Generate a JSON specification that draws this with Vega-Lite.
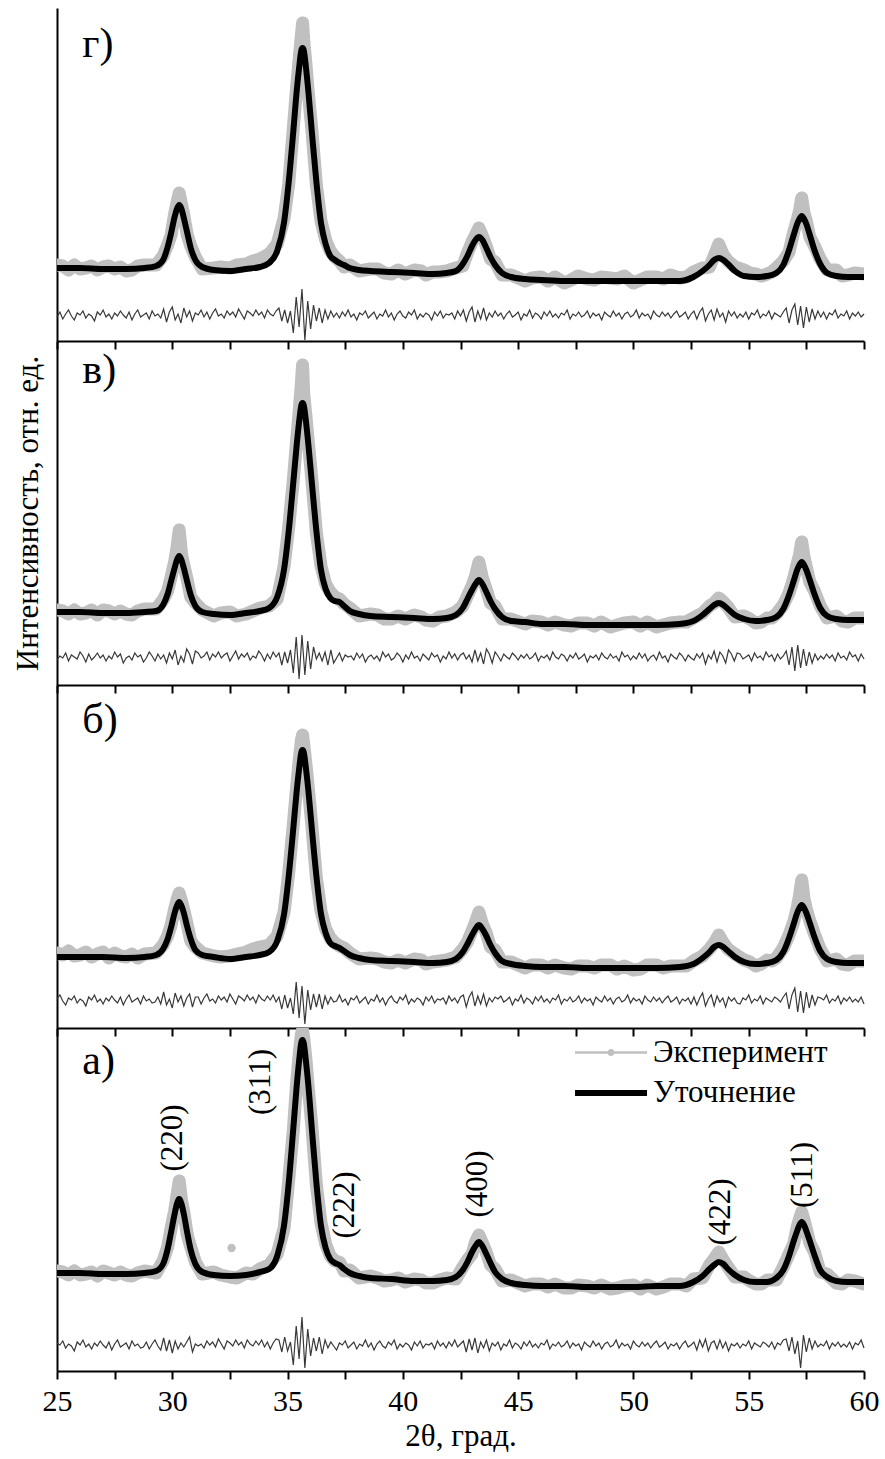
{
"$schema": "https://vega.github.io/schema/vega-lite/v6.json",
"padding": {"left": 12, "top": 8, "right": 8, "bottom": 6},
"config": {
 "view": {"stroke": null},
 "font": "Liberation Serif",
 "axis": {"grid": false, "domainColor": "#000", "tickColor": "#000", "domainWidth": 2, "tickWidth": 2, "labelFont": "Liberation Serif", "labelFontSize": 30, "labelColor": "#000", "titleFont": "Liberation Serif", "titleFontSize": 31, "titleFontWeight": "normal", "titleColor": "#000"},
 "text": {"font": "Liberation Serif", "color": "#000"}
},
"bounds": "flush",
"spacing": 0,
"resolve": {"scale": {"color": "independent", "shape": "independent", "strokeWidth": "independent"}, "legend": {"color": "independent", "shape": "independent", "strokeWidth": "independent"}},
"datasets": {
"fg": [{"x":25,"y":73},{"x":26,"y":73},{"x":27,"y":72},{"x":28,"y":72},{"x":28.8,"y":73},{"x":29.3,"y":75},{"x":29.6,"y":81},{"x":29.8,"y":94},{"x":29.95,"y":108},{"x":30.1,"y":124},{"x":30.2,"y":132},{"x":30.3,"y":136},{"x":30.4,"y":132},{"x":30.5,"y":123},{"x":30.65,"y":108},{"x":30.8,"y":93},{"x":31,"y":81},{"x":31.3,"y":74},{"x":31.8,"y":71},{"x":32.5,"y":70},{"x":33.2,"y":72},{"x":33.8,"y":74},{"x":34.2,"y":78},{"x":34.55,"y":90},{"x":34.85,"y":119},{"x":35.05,"y":159},{"x":35.25,"y":210},{"x":35.4,"y":251},{"x":35.5,"y":273},{"x":35.6,"y":291},{"x":35.65,"y":293},{"x":35.7,"y":291},{"x":35.8,"y":273},{"x":35.9,"y":250},{"x":36.05,"y":210},{"x":36.25,"y":159},{"x":36.45,"y":118},{"x":36.65,"y":97},{"x":36.85,"y":85},{"x":37.05,"y":81},{"x":37.25,"y":78},{"x":37.45,"y":76},{"x":37.7,"y":73},{"x":38.1,"y":71},{"x":38.6,"y":70},{"x":39.5,"y":69},{"x":40.5,"y":68},{"x":41.3,"y":67},{"x":41.9,"y":68},{"x":42.3,"y":70},{"x":42.6,"y":77},{"x":42.8,"y":85},{"x":43,"y":95},{"x":43.15,"y":101},{"x":43.3,"y":104},{"x":43.45,"y":101},{"x":43.6,"y":94},{"x":43.8,"y":84},{"x":44,"y":76},{"x":44.3,"y":68},{"x":44.7,"y":64},{"x":45.3,"y":62},{"x":46,"y":61},{"x":47,"y":60},{"x":48,"y":60},{"x":49,"y":60},{"x":50,"y":60},{"x":51,"y":60},{"x":52,"y":60},{"x":52.6,"y":64},{"x":53,"y":70},{"x":53.3,"y":76},{"x":53.5,"y":81},{"x":53.7,"y":83},{"x":53.9,"y":81},{"x":54.1,"y":77},{"x":54.4,"y":70},{"x":54.8,"y":65},{"x":55.3,"y":64},{"x":55.8,"y":65},{"x":56.2,"y":68},{"x":56.5,"y":76},{"x":56.75,"y":91},{"x":56.95,"y":106},{"x":57.1,"y":117},{"x":57.2,"y":122},{"x":57.3,"y":125},{"x":57.4,"y":122},{"x":57.5,"y":117},{"x":57.65,"y":106},{"x":57.85,"y":91},{"x":58.1,"y":77},{"x":58.4,"y":68},{"x":58.8,"y":65},{"x":59.3,"y":64},{"x":60,"y":64}],
"fv": [{"x":25,"y":73},{"x":26,"y":73},{"x":27,"y":72},{"x":28,"y":72},{"x":28.8,"y":73},{"x":29.3,"y":74},{"x":29.6,"y":80},{"x":29.8,"y":91},{"x":29.95,"y":104},{"x":30.1,"y":117},{"x":30.2,"y":125},{"x":30.3,"y":129},{"x":30.4,"y":125},{"x":30.5,"y":117},{"x":30.65,"y":103},{"x":30.8,"y":90},{"x":31,"y":79},{"x":31.3,"y":73},{"x":31.8,"y":71},{"x":32.5,"y":70},{"x":33.2,"y":72},{"x":33.8,"y":74},{"x":34.2,"y":77},{"x":34.55,"y":88},{"x":34.85,"y":116},{"x":35.05,"y":154},{"x":35.25,"y":203},{"x":35.4,"y":241},{"x":35.5,"y":263},{"x":35.6,"y":280},{"x":35.65,"y":282},{"x":35.7,"y":280},{"x":35.8,"y":263},{"x":35.9,"y":241},{"x":36.05,"y":203},{"x":36.25,"y":154},{"x":36.45,"y":115},{"x":36.65,"y":96},{"x":36.85,"y":87},{"x":37.05,"y":84},{"x":37.25,"y":83},{"x":37.45,"y":79},{"x":37.7,"y":74},{"x":38.1,"y":71},{"x":38.6,"y":69},{"x":39.5,"y":68},{"x":40.5,"y":67},{"x":41.3,"y":66},{"x":41.9,"y":67},{"x":42.3,"y":70},{"x":42.6,"y":77},{"x":42.8,"y":86},{"x":43,"y":95},{"x":43.15,"y":101},{"x":43.3,"y":105},{"x":43.45,"y":101},{"x":43.6,"y":94},{"x":43.8,"y":84},{"x":44,"y":76},{"x":44.3,"y":68},{"x":44.7,"y":64},{"x":45.3,"y":63},{"x":46,"y":61},{"x":47,"y":61},{"x":48,"y":60},{"x":49,"y":60},{"x":50,"y":60},{"x":51,"y":60},{"x":52,"y":61},{"x":52.6,"y":64},{"x":53,"y":70},{"x":53.3,"y":76},{"x":53.5,"y":80},{"x":53.7,"y":82},{"x":53.9,"y":80},{"x":54.1,"y":76},{"x":54.4,"y":70},{"x":54.8,"y":66},{"x":55.3,"y":64},{"x":55.8,"y":65},{"x":56.2,"y":68},{"x":56.5,"y":76},{"x":56.75,"y":90},{"x":56.95,"y":104},{"x":57.1,"y":115},{"x":57.2,"y":120},{"x":57.3,"y":123},{"x":57.4,"y":120},{"x":57.5,"y":115},{"x":57.65,"y":105},{"x":57.85,"y":91},{"x":58.1,"y":77},{"x":58.4,"y":69},{"x":58.8,"y":66},{"x":59.3,"y":65},{"x":60,"y":65}],
"fb": [{"x":25,"y":71},{"x":26,"y":71},{"x":27,"y":71},{"x":28,"y":70},{"x":28.8,"y":71},{"x":29.3,"y":73},{"x":29.6,"y":79},{"x":29.8,"y":89},{"x":29.95,"y":101},{"x":30.1,"y":115},{"x":30.2,"y":122},{"x":30.3,"y":126},{"x":30.4,"y":122},{"x":30.5,"y":115},{"x":30.65,"y":101},{"x":30.8,"y":89},{"x":31,"y":78},{"x":31.3,"y":73},{"x":31.8,"y":71},{"x":32.5,"y":69},{"x":33.2,"y":71},{"x":33.8,"y":73},{"x":34.2,"y":76},{"x":34.55,"y":87},{"x":34.85,"y":114},{"x":35.05,"y":152},{"x":35.25,"y":200},{"x":35.4,"y":238},{"x":35.5,"y":259},{"x":35.6,"y":276},{"x":35.65,"y":278},{"x":35.7,"y":276},{"x":35.8,"y":259},{"x":35.9,"y":238},{"x":36.05,"y":200},{"x":36.25,"y":152},{"x":36.45,"y":114},{"x":36.65,"y":95},{"x":36.85,"y":85},{"x":37.05,"y":82},{"x":37.25,"y":80},{"x":37.45,"y":77},{"x":37.7,"y":73},{"x":38.1,"y":70},{"x":38.6,"y":68},{"x":39.5,"y":67},{"x":40.5,"y":66},{"x":41.3,"y":65},{"x":41.9,"y":66},{"x":42.3,"y":69},{"x":42.6,"y":76},{"x":42.8,"y":84},{"x":43,"y":93},{"x":43.15,"y":99},{"x":43.3,"y":103},{"x":43.45,"y":99},{"x":43.6,"y":93},{"x":43.8,"y":83},{"x":44,"y":75},{"x":44.3,"y":67},{"x":44.7,"y":64},{"x":45.3,"y":62},{"x":46,"y":61},{"x":47,"y":61},{"x":48,"y":60},{"x":49,"y":60},{"x":50,"y":60},{"x":51,"y":60},{"x":52,"y":61},{"x":52.6,"y":64},{"x":53,"y":70},{"x":53.3,"y":76},{"x":53.5,"y":81},{"x":53.7,"y":83},{"x":53.9,"y":81},{"x":54.1,"y":77},{"x":54.4,"y":71},{"x":54.8,"y":66},{"x":55.3,"y":64},{"x":55.8,"y":65},{"x":56.2,"y":68},{"x":56.5,"y":76},{"x":56.75,"y":90},{"x":56.95,"y":104},{"x":57.1,"y":115},{"x":57.2,"y":120},{"x":57.3,"y":123},{"x":57.4,"y":120},{"x":57.5,"y":115},{"x":57.65,"y":105},{"x":57.85,"y":91},{"x":58.1,"y":77},{"x":58.4,"y":69},{"x":58.8,"y":66},{"x":59.3,"y":65},{"x":60,"y":65}],
"fa": [{"x":25,"y":98},{"x":26,"y":98},{"x":27,"y":97},{"x":28,"y":97},{"x":28.8,"y":98},{"x":29.3,"y":100},{"x":29.6,"y":107},{"x":29.8,"y":122},{"x":29.95,"y":139},{"x":30.1,"y":157},{"x":30.2,"y":167},{"x":30.3,"y":172},{"x":30.4,"y":167},{"x":30.5,"y":157},{"x":30.65,"y":138},{"x":30.8,"y":121},{"x":31,"y":107},{"x":31.3,"y":99},{"x":31.8,"y":96},{"x":32.5,"y":95},{"x":33.2,"y":96},{"x":33.8,"y":99},{"x":34.2,"y":102},{"x":34.55,"y":115},{"x":34.85,"y":146},{"x":35.05,"y":188},{"x":35.25,"y":243},{"x":35.4,"y":286},{"x":35.5,"y":310},{"x":35.6,"y":329},{"x":35.65,"y":331},{"x":35.7,"y":328},{"x":35.8,"y":309},{"x":35.9,"y":286},{"x":36.05,"y":243},{"x":36.25,"y":188},{"x":36.45,"y":145},{"x":36.65,"y":123},{"x":36.85,"y":112},{"x":37.05,"y":108},{"x":37.25,"y":106},{"x":37.45,"y":102},{"x":37.7,"y":98},{"x":38.1,"y":95},{"x":38.6,"y":93},{"x":39.5,"y":92},{"x":40.5,"y":90},{"x":41.3,"y":90},{"x":41.9,"y":91},{"x":42.3,"y":94},{"x":42.6,"y":101},{"x":42.8,"y":109},{"x":43,"y":119},{"x":43.15,"y":125},{"x":43.3,"y":129},{"x":43.45,"y":125},{"x":43.6,"y":118},{"x":43.8,"y":108},{"x":44,"y":99},{"x":44.3,"y":92},{"x":44.7,"y":88},{"x":45.3,"y":86},{"x":46,"y":85},{"x":47,"y":85},{"x":48,"y":84},{"x":49,"y":84},{"x":50,"y":84},{"x":51,"y":85},{"x":52,"y":85},{"x":52.6,"y":89},{"x":53,"y":95},{"x":53.3,"y":102},{"x":53.5,"y":106},{"x":53.7,"y":109},{"x":53.9,"y":107},{"x":54.1,"y":102},{"x":54.4,"y":96},{"x":54.8,"y":91},{"x":55.3,"y":89},{"x":55.8,"y":89},{"x":56.2,"y":93},{"x":56.5,"y":101},{"x":56.75,"y":115},{"x":56.95,"y":130},{"x":57.1,"y":140},{"x":57.2,"y":146},{"x":57.3,"y":149},{"x":57.4,"y":146},{"x":57.5,"y":140},{"x":57.65,"y":130},{"x":57.85,"y":116},{"x":58.1,"y":101},{"x":58.4,"y":94},{"x":58.8,"y":90},{"x":59.3,"y":89},{"x":60,"y":89}],
"eg": [{"x":25,"y":76},{"x":25.25,"y":75},{"x":25.5,"y":71},{"x":25.75,"y":76},{"x":26,"y":72},{"x":26.25,"y":73},{"x":26.5,"y":75},{"x":26.75,"y":71},{"x":27,"y":74},{"x":27.25,"y":75},{"x":27.5,"y":72},{"x":27.75,"y":74},{"x":28,"y":70},{"x":28.25,"y":71},{"x":28.5,"y":75},{"x":28.8,"y":76},{"x":29.3,"y":76},{"x":29.6,"y":85},{"x":29.8,"y":96},{"x":29.95,"y":106},{"x":30.1,"y":127},{"x":30.2,"y":138},{"x":30.3,"y":148},{"x":30.4,"y":137},{"x":30.5,"y":126},{"x":30.65,"y":106},{"x":30.8,"y":95},{"x":31,"y":84},{"x":31.3,"y":72},{"x":31.8,"y":73},{"x":32.1,"y":74},{"x":32.5,"y":73},{"x":32.8,"y":76},{"x":33.2,"y":77},{"x":33.5,"y":80},{"x":33.8,"y":82},{"x":34.2,"y":87},{"x":34.55,"y":97},{"x":34.85,"y":123},{"x":35.05,"y":157},{"x":35.25,"y":213},{"x":35.4,"y":256},{"x":35.5,"y":281},{"x":35.6,"y":306},{"x":35.65,"y":318},{"x":35.7,"y":301},{"x":35.8,"y":276},{"x":35.9,"y":248},{"x":36.05,"y":212},{"x":36.25,"y":156},{"x":36.45,"y":120},{"x":36.65,"y":101},{"x":36.85,"y":90},{"x":37.05,"y":84},{"x":37.25,"y":80},{"x":37.45,"y":74},{"x":37.7,"y":76},{"x":38.1,"y":70},{"x":38.6,"y":72},{"x":38.9,"y":72},{"x":39.2,"y":68},{"x":39.5,"y":67},{"x":39.8,"y":71},{"x":40.1,"y":67},{"x":40.5,"y":71},{"x":40.8,"y":70},{"x":41,"y":66},{"x":41.3,"y":69},{"x":41.6,"y":69},{"x":41.9,"y":70},{"x":42.3,"y":73},{"x":42.6,"y":75},{"x":42.8,"y":88},{"x":43,"y":99},{"x":43.15,"y":106},{"x":43.3,"y":113},{"x":43.45,"y":105},{"x":43.6,"y":96},{"x":43.8,"y":82},{"x":44,"y":79},{"x":44.3,"y":66},{"x":44.7,"y":66},{"x":45.3,"y":60},{"x":45.6,"y":63},{"x":46,"y":64},{"x":46.3,"y":60},{"x":46.6,"y":64},{"x":47,"y":58},{"x":47.3,"y":61},{"x":47.6,"y":65},{"x":48,"y":62},{"x":48.3,"y":61},{"x":48.6,"y":64},{"x":49,"y":63},{"x":49.3,"y":62},{"x":49.6,"y":65},{"x":50,"y":58},{"x":50.3,"y":61},{"x":50.6,"y":64},{"x":51,"y":64},{"x":51.3,"y":62},{"x":51.6,"y":66},{"x":52,"y":63},{"x":52.3,"y":64},{"x":52.6,"y":69},{"x":53,"y":73},{"x":53.3,"y":74},{"x":53.5,"y":85},{"x":53.7,"y":97},{"x":53.9,"y":86},{"x":54.1,"y":80},{"x":54.4,"y":74},{"x":54.8,"y":71},{"x":55.05,"y":68},{"x":55.3,"y":67},{"x":55.55,"y":65},{"x":55.8,"y":67},{"x":56,"y":69},{"x":56.2,"y":73},{"x":56.5,"y":80},{"x":56.75,"y":89},{"x":56.95,"y":109},{"x":57.1,"y":121},{"x":57.2,"y":130},{"x":57.3,"y":143},{"x":57.4,"y":128},{"x":57.5,"y":120},{"x":57.65,"y":104},{"x":57.85,"y":95},{"x":58.1,"y":82},{"x":58.4,"y":71},{"x":58.8,"y":71},{"x":59.05,"y":65},{"x":59.3,"y":66},{"x":59.6,"y":68},{"x":60,"y":67}],
"ev": [{"x":25,"y":75},{"x":25.25,"y":74},{"x":25.5,"y":71},{"x":25.75,"y":75},{"x":26,"y":71},{"x":26.25,"y":72},{"x":26.5,"y":75},{"x":26.75,"y":70},{"x":27,"y":75},{"x":27.25,"y":74},{"x":27.5,"y":71},{"x":27.75,"y":74},{"x":28,"y":71},{"x":28.25,"y":70},{"x":28.5,"y":74},{"x":28.8,"y":76},{"x":29.3,"y":76},{"x":29.6,"y":85},{"x":29.8,"y":94},{"x":29.95,"y":108},{"x":30.1,"y":123},{"x":30.2,"y":137},{"x":30.3,"y":155},{"x":30.4,"y":131},{"x":30.5,"y":120},{"x":30.65,"y":105},{"x":30.8,"y":88},{"x":31,"y":82},{"x":31.3,"y":75},{"x":31.8,"y":69},{"x":32.1,"y":72},{"x":32.5,"y":73},{"x":32.8,"y":69},{"x":33.2,"y":71},{"x":33.5,"y":74},{"x":33.8,"y":77},{"x":34.2,"y":79},{"x":34.55,"y":86},{"x":34.85,"y":119},{"x":35.05,"y":158},{"x":35.25,"y":205},{"x":35.4,"y":247},{"x":35.5,"y":273},{"x":35.6,"y":302},{"x":35.65,"y":320},{"x":35.7,"y":292},{"x":35.8,"y":268},{"x":35.9,"y":243},{"x":36.05,"y":206},{"x":36.25,"y":152},{"x":36.45,"y":119},{"x":36.65,"y":101},{"x":36.85,"y":93},{"x":37.05,"y":88},{"x":37.25,"y":86},{"x":37.45,"y":81},{"x":37.7,"y":77},{"x":38.1,"y":69},{"x":38.6,"y":71},{"x":38.9,"y":70},{"x":39.2,"y":66},{"x":39.5,"y":66},{"x":39.8,"y":69},{"x":40.1,"y":66},{"x":40.5,"y":70},{"x":40.8,"y":68},{"x":41,"y":65},{"x":41.3,"y":64},{"x":41.6,"y":68},{"x":41.9,"y":69},{"x":42.3,"y":73},{"x":42.6,"y":79},{"x":42.8,"y":89},{"x":43,"y":99},{"x":43.15,"y":109},{"x":43.3,"y":123},{"x":43.45,"y":107},{"x":43.6,"y":97},{"x":43.8,"y":82},{"x":44,"y":79},{"x":44.3,"y":66},{"x":44.7,"y":66},{"x":45.3,"y":61},{"x":45.6,"y":64},{"x":46,"y":63},{"x":46.3,"y":60},{"x":46.6,"y":63},{"x":47,"y":60},{"x":47.3,"y":59},{"x":47.6,"y":62},{"x":48,"y":62},{"x":48.3,"y":59},{"x":48.6,"y":63},{"x":49,"y":58},{"x":49.3,"y":60},{"x":49.6,"y":62},{"x":50,"y":63},{"x":50.3,"y":59},{"x":50.6,"y":63},{"x":51,"y":58},{"x":51.3,"y":60},{"x":51.6,"y":62},{"x":52,"y":63},{"x":52.3,"y":63},{"x":52.6,"y":67},{"x":53,"y":72},{"x":53.3,"y":79},{"x":53.5,"y":82},{"x":53.7,"y":87},{"x":53.9,"y":83},{"x":54.1,"y":78},{"x":54.4,"y":68},{"x":54.8,"y":69},{"x":55.05,"y":66},{"x":55.3,"y":62},{"x":55.55,"y":63},{"x":55.8,"y":67},{"x":56,"y":67},{"x":56.2,"y":71},{"x":56.5,"y":80},{"x":56.75,"y":92},{"x":56.95,"y":107},{"x":57.1,"y":121},{"x":57.2,"y":130},{"x":57.3,"y":143},{"x":57.4,"y":128},{"x":57.5,"y":118},{"x":57.65,"y":103},{"x":57.85,"y":94},{"x":58.1,"y":79},{"x":58.4,"y":67},{"x":58.8,"y":69},{"x":59.05,"y":64},{"x":59.3,"y":63},{"x":59.6,"y":67},{"x":60,"y":67}],
"eb": [{"x":25,"y":75},{"x":25.25,"y":73},{"x":25.5,"y":77},{"x":25.75,"y":72},{"x":26,"y":73},{"x":26.25,"y":76},{"x":26.5,"y":71},{"x":26.75,"y":74},{"x":27,"y":76},{"x":27.25,"y":70},{"x":27.5,"y":75},{"x":27.75,"y":72},{"x":28,"y":71},{"x":28.25,"y":74},{"x":28.5,"y":70},{"x":28.8,"y":74},{"x":29.3,"y":75},{"x":29.6,"y":83},{"x":29.8,"y":92},{"x":29.95,"y":103},{"x":30.1,"y":119},{"x":30.2,"y":128},{"x":30.3,"y":135},{"x":30.4,"y":127},{"x":30.5,"y":118},{"x":30.65,"y":103},{"x":30.8,"y":87},{"x":31,"y":81},{"x":31.3,"y":75},{"x":31.8,"y":72},{"x":32.1,"y":71},{"x":32.5,"y":72},{"x":32.8,"y":74},{"x":33.2,"y":76},{"x":33.5,"y":79},{"x":33.8,"y":81},{"x":34.2,"y":83},{"x":34.55,"y":92},{"x":34.85,"y":116},{"x":35.05,"y":155},{"x":35.25,"y":204},{"x":35.4,"y":243},{"x":35.5,"y":267},{"x":35.6,"y":288},{"x":35.65,"y":293},{"x":35.7,"y":284},{"x":35.8,"y":263},{"x":35.9,"y":240},{"x":36.05,"y":203},{"x":36.25,"y":150},{"x":36.45,"y":117},{"x":36.65,"y":99},{"x":36.85,"y":90},{"x":37.05,"y":85},{"x":37.25,"y":82},{"x":37.45,"y":80},{"x":37.7,"y":75},{"x":38.1,"y":69},{"x":38.6,"y":70},{"x":38.9,"y":69},{"x":39.2,"y":66},{"x":39.5,"y":65},{"x":39.8,"y":68},{"x":40.1,"y":65},{"x":40.5,"y":69},{"x":40.8,"y":68},{"x":41,"y":64},{"x":41.3,"y":66},{"x":41.6,"y":67},{"x":41.9,"y":68},{"x":42.3,"y":71},{"x":42.6,"y":79},{"x":42.8,"y":86},{"x":43,"y":97},{"x":43.15,"y":106},{"x":43.3,"y":116},{"x":43.45,"y":104},{"x":43.6,"y":96},{"x":43.8,"y":81},{"x":44,"y":78},{"x":44.3,"y":66},{"x":44.7,"y":66},{"x":45.3,"y":60},{"x":45.6,"y":63},{"x":46,"y":63},{"x":46.3,"y":60},{"x":46.6,"y":63},{"x":47,"y":60},{"x":47.3,"y":59},{"x":47.6,"y":62},{"x":48,"y":62},{"x":48.3,"y":60},{"x":48.6,"y":63},{"x":49,"y":63},{"x":49.3,"y":59},{"x":49.6,"y":62},{"x":50,"y":58},{"x":50.3,"y":59},{"x":50.6,"y":63},{"x":51,"y":63},{"x":51.3,"y":60},{"x":51.6,"y":62},{"x":52,"y":62},{"x":52.3,"y":62},{"x":52.6,"y":67},{"x":53,"y":72},{"x":53.3,"y":79},{"x":53.5,"y":85},{"x":53.7,"y":93},{"x":53.9,"y":85},{"x":54.1,"y":79},{"x":54.4,"y":74},{"x":54.8,"y":68},{"x":55.05,"y":66},{"x":55.3,"y":62},{"x":55.55,"y":64},{"x":55.8,"y":68},{"x":56,"y":67},{"x":56.2,"y":70},{"x":56.5,"y":80},{"x":56.75,"y":93},{"x":56.95,"y":106},{"x":57.1,"y":120},{"x":57.2,"y":132},{"x":57.3,"y":148},{"x":57.4,"y":129},{"x":57.5,"y":119},{"x":57.65,"y":107},{"x":57.85,"y":94},{"x":58.1,"y":79},{"x":58.4,"y":67},{"x":58.8,"y":69},{"x":59.05,"y":64},{"x":59.3,"y":63},{"x":59.6,"y":67},{"x":60,"y":67}],
"ea": [{"x":25,"y":100},{"x":25.25,"y":99},{"x":25.5,"y":96},{"x":25.75,"y":100},{"x":26,"y":96},{"x":26.25,"y":97},{"x":26.5,"y":99},{"x":26.75,"y":95},{"x":27,"y":100},{"x":27.25,"y":98},{"x":27.5,"y":96},{"x":27.75,"y":99},{"x":28,"y":96},{"x":28.25,"y":95},{"x":28.5,"y":98},{"x":28.8,"y":100},{"x":29.3,"y":98},{"x":29.6,"y":110},{"x":29.8,"y":124},{"x":29.95,"y":143},{"x":30.1,"y":160},{"x":30.2,"y":175},{"x":30.3,"y":190},{"x":30.4,"y":171},{"x":30.5,"y":159},{"x":30.65,"y":136},{"x":30.8,"y":124},{"x":31,"y":109},{"x":31.3,"y":97},{"x":31.8,"y":99},{"x":32.1,"y":96},{"x":32.5,"y":94},{"x":32.57,"y":123,"o":1},{"x":32.8,"y":93},{"x":33.2,"y":98},{"x":33.5,"y":97},{"x":33.8,"y":102},{"x":34.2,"y":106},{"x":34.55,"y":117},{"x":34.85,"y":143},{"x":35.05,"y":191},{"x":35.25,"y":241},{"x":35.4,"y":290},{"x":35.5,"y":316},{"x":35.6,"y":337},{"x":35.65,"y":341},{"x":35.7,"y":333},{"x":35.8,"y":311},{"x":35.9,"y":283},{"x":36.05,"y":246},{"x":36.25,"y":186},{"x":36.45,"y":148},{"x":36.65,"y":127},{"x":36.85,"y":115},{"x":37.05,"y":110},{"x":37.25,"y":109},{"x":37.45,"y":100},{"x":37.7,"y":101},{"x":38.1,"y":93},{"x":38.6,"y":95},{"x":38.9,"y":93},{"x":39.2,"y":90},{"x":39.5,"y":91},{"x":39.8,"y":93},{"x":40.1,"y":89},{"x":40.5,"y":92},{"x":40.8,"y":91},{"x":41,"y":88},{"x":41.3,"y":88},{"x":41.6,"y":91},{"x":41.9,"y":93},{"x":42.3,"y":92},{"x":42.6,"y":104},{"x":42.8,"y":111},{"x":43,"y":117},{"x":43.15,"y":129},{"x":43.3,"y":136},{"x":43.45,"y":128},{"x":43.6,"y":120},{"x":43.8,"y":106},{"x":44,"y":102},{"x":44.3,"y":90},{"x":44.7,"y":91},{"x":45.3,"y":85},{"x":45.6,"y":87},{"x":46,"y":87},{"x":46.3,"y":84},{"x":46.6,"y":87},{"x":47,"y":83},{"x":47.3,"y":83},{"x":47.6,"y":86},{"x":48,"y":85},{"x":48.3,"y":83},{"x":48.6,"y":86},{"x":49,"y":82},{"x":49.3,"y":83},{"x":49.6,"y":85},{"x":50,"y":86},{"x":50.3,"y":82},{"x":50.6,"y":86},{"x":51,"y":82},{"x":51.3,"y":84},{"x":51.6,"y":87},{"x":52,"y":87},{"x":52.3,"y":85},{"x":52.6,"y":92},{"x":53,"y":93},{"x":53.3,"y":106},{"x":53.5,"y":112},{"x":53.7,"y":119},{"x":53.9,"y":111},{"x":54.1,"y":104},{"x":54.4,"y":94},{"x":54.8,"y":94},{"x":55.05,"y":90},{"x":55.3,"y":87},{"x":55.55,"y":87},{"x":55.8,"y":91},{"x":56,"y":91},{"x":56.2,"y":91},{"x":56.5,"y":104},{"x":56.75,"y":117},{"x":56.95,"y":127},{"x":57.1,"y":144},{"x":57.2,"y":152},{"x":57.3,"y":159},{"x":57.4,"y":151},{"x":57.5,"y":142},{"x":57.65,"y":128},{"x":57.85,"y":119},{"x":58.1,"y":99},{"x":58.4,"y":97},{"x":58.8,"y":88},{"x":59.05,"y":87},{"x":59.3,"y":91},{"x":59.6,"y":90},{"x":60,"y":87}],
"dg": [{"x":25,"y":24},{"x":25.125,"y":29},{"x":25.25,"y":22},{"x":25.375,"y":27},{"x":25.5,"y":31},{"x":25.625,"y":25},{"x":25.75,"y":21},{"x":25.875,"y":28},{"x":26,"y":26},{"x":26.125,"y":30},{"x":26.25,"y":23},{"x":26.375,"y":27},{"x":26.5,"y":25},{"x":26.625,"y":20},{"x":26.75,"y":29},{"x":26.875,"y":26},{"x":27,"y":31},{"x":27.125,"y":24},{"x":27.25,"y":27},{"x":27.375,"y":22},{"x":27.5,"y":28},{"x":27.625,"y":25},{"x":27.75,"y":30},{"x":27.875,"y":26},{"x":28,"y":23},{"x":28.125,"y":29},{"x":28.25,"y":21},{"x":28.375,"y":27},{"x":28.5,"y":31},{"x":28.625,"y":24},{"x":28.75,"y":26},{"x":28.875,"y":28},{"x":29,"y":22},{"x":29.125,"y":30},{"x":29.25,"y":25},{"x":29.375,"y":27},{"x":29.5,"y":23},{"x":29.625,"y":32},{"x":29.75,"y":19},{"x":29.875,"y":29},{"x":30,"y":34},{"x":30.125,"y":21},{"x":30.25,"y":27},{"x":30.375,"y":18},{"x":30.5,"y":33},{"x":30.625,"y":24},{"x":30.75,"y":30},{"x":30.875,"y":20},{"x":31,"y":28},{"x":31.125,"y":26},{"x":31.25,"y":31},{"x":31.375,"y":24},{"x":31.5,"y":29},{"x":31.625,"y":22},{"x":31.75,"y":28},{"x":31.875,"y":32},{"x":32,"y":25},{"x":32.125,"y":27},{"x":32.25,"y":23},{"x":32.375,"y":30},{"x":32.5,"y":26},{"x":32.625,"y":29},{"x":32.75,"y":24},{"x":32.875,"y":32},{"x":33,"y":27},{"x":33.125,"y":22},{"x":33.25,"y":30},{"x":33.375,"y":28},{"x":33.5,"y":25},{"x":33.625,"y":31},{"x":33.75,"y":26},{"x":33.875,"y":29},{"x":34,"y":23},{"x":34.125,"y":31},{"x":34.25,"y":27},{"x":34.375,"y":25},{"x":34.5,"y":30},{"x":34.625,"y":33},{"x":34.75,"y":20},{"x":34.875,"y":31},{"x":35,"y":18},{"x":35.125,"y":30},{"x":35.25,"y":8},{"x":35.375,"y":44},{"x":35.5,"y":14},{"x":35.625,"y":52},{"x":35.75,"y":1},{"x":35.875,"y":40},{"x":36,"y":12},{"x":36.125,"y":36},{"x":36.25,"y":20},{"x":36.375,"y":33},{"x":36.5,"y":18},{"x":36.625,"y":31},{"x":36.75,"y":22},{"x":36.875,"y":30},{"x":37,"y":24},{"x":37.125,"y":28},{"x":37.25,"y":23},{"x":37.375,"y":29},{"x":37.5,"y":25},{"x":37.625,"y":31},{"x":37.75,"y":24},{"x":37.875,"y":27},{"x":38,"y":21},{"x":38.125,"y":28},{"x":38.25,"y":26},{"x":38.375,"y":30},{"x":38.5,"y":23},{"x":38.625,"y":26},{"x":38.75,"y":29},{"x":38.875,"y":22},{"x":39,"y":27},{"x":39.125,"y":25},{"x":39.25,"y":31},{"x":39.375,"y":24},{"x":39.5,"y":28},{"x":39.625,"y":21},{"x":39.75,"y":27},{"x":39.875,"y":30},{"x":40,"y":25},{"x":40.125,"y":23},{"x":40.25,"y":29},{"x":40.375,"y":26},{"x":40.5,"y":31},{"x":40.625,"y":22},{"x":40.75,"y":27},{"x":40.875,"y":24},{"x":41,"y":28},{"x":41.125,"y":26},{"x":41.25,"y":21},{"x":41.375,"y":29},{"x":41.5,"y":25},{"x":41.625,"y":30},{"x":41.75,"y":23},{"x":41.875,"y":27},{"x":42,"y":26},{"x":42.125,"y":28},{"x":42.25,"y":22},{"x":42.375,"y":30},{"x":42.5,"y":25},{"x":42.625,"y":31},{"x":42.75,"y":20},{"x":42.875,"y":29},{"x":43,"y":34},{"x":43.125,"y":19},{"x":43.25,"y":30},{"x":43.375,"y":22},{"x":43.5,"y":33},{"x":43.625,"y":21},{"x":43.75,"y":28},{"x":43.875,"y":24},{"x":44,"y":30},{"x":44.125,"y":25},{"x":44.25,"y":28},{"x":44.375,"y":22},{"x":44.5,"y":27},{"x":44.625,"y":30},{"x":44.75,"y":24},{"x":44.875,"y":26},{"x":45,"y":29},{"x":45.125,"y":21},{"x":45.25,"y":27},{"x":45.375,"y":25},{"x":45.5,"y":31},{"x":45.625,"y":23},{"x":45.75,"y":28},{"x":45.875,"y":26},{"x":46,"y":22},{"x":46.125,"y":29},{"x":46.25,"y":25},{"x":46.375,"y":30},{"x":46.5,"y":24},{"x":46.625,"y":27},{"x":46.75,"y":23},{"x":46.875,"y":28},{"x":47,"y":26},{"x":47.125,"y":31},{"x":47.25,"y":22},{"x":47.375,"y":27},{"x":47.5,"y":25},{"x":47.625,"y":29},{"x":47.75,"y":24},{"x":47.875,"y":26},{"x":48,"y":30},{"x":48.125,"y":23},{"x":48.25,"y":28},{"x":48.375,"y":25},{"x":48.5,"y":27},{"x":48.625,"y":21},{"x":48.75,"y":29},{"x":48.875,"y":26},{"x":49,"y":24},{"x":49.125,"y":30},{"x":49.25,"y":25},{"x":49.375,"y":28},{"x":49.5,"y":22},{"x":49.625,"y":27},{"x":49.75,"y":29},{"x":49.875,"y":24},{"x":50,"y":26},{"x":50.125,"y":31},{"x":50.25,"y":23},{"x":50.375,"y":28},{"x":50.5,"y":25},{"x":50.625,"y":27},{"x":50.75,"y":22},{"x":50.875,"y":30},{"x":51,"y":26},{"x":51.125,"y":24},{"x":51.25,"y":29},{"x":51.375,"y":25},{"x":51.5,"y":28},{"x":51.625,"y":23},{"x":51.75,"y":27},{"x":51.875,"y":30},{"x":52,"y":24},{"x":52.125,"y":26},{"x":52.25,"y":29},{"x":52.375,"y":22},{"x":52.5,"y":27},{"x":52.625,"y":30},{"x":52.75,"y":22},{"x":52.875,"y":29},{"x":53,"y":33},{"x":53.125,"y":20},{"x":53.25,"y":27},{"x":53.375,"y":31},{"x":53.5,"y":21},{"x":53.625,"y":32},{"x":53.75,"y":24},{"x":53.875,"y":28},{"x":54,"y":19},{"x":54.125,"y":30},{"x":54.25,"y":25},{"x":54.375,"y":29},{"x":54.5,"y":23},{"x":54.625,"y":27},{"x":54.75,"y":24},{"x":54.875,"y":29},{"x":55,"y":22},{"x":55.125,"y":28},{"x":55.25,"y":26},{"x":55.375,"y":31},{"x":55.5,"y":23},{"x":55.625,"y":27},{"x":55.75,"y":25},{"x":55.875,"y":30},{"x":56,"y":22},{"x":56.125,"y":28},{"x":56.25,"y":26},{"x":56.375,"y":24},{"x":56.5,"y":29},{"x":56.625,"y":33},{"x":56.75,"y":18},{"x":56.875,"y":31},{"x":57,"y":37},{"x":57.125,"y":16},{"x":57.25,"y":35},{"x":57.375,"y":13},{"x":57.5,"y":34},{"x":57.625,"y":19},{"x":57.75,"y":32},{"x":57.875,"y":22},{"x":58,"y":30},{"x":58.125,"y":24},{"x":58.25,"y":29},{"x":58.375,"y":22},{"x":58.5,"y":28},{"x":58.625,"y":26},{"x":58.75,"y":31},{"x":58.875,"y":23},{"x":59,"y":27},{"x":59.125,"y":25},{"x":59.25,"y":30},{"x":59.375,"y":22},{"x":59.5,"y":28},{"x":59.625,"y":25},{"x":59.75,"y":29},{"x":59.875,"y":24},{"x":60,"y":27}],
"dv": [{"x":25,"y":25},{"x":25.125,"y":29},{"x":25.25,"y":27},{"x":25.375,"y":32},{"x":25.5,"y":24},{"x":25.625,"y":30},{"x":25.75,"y":28},{"x":25.875,"y":26},{"x":26,"y":33},{"x":26.125,"y":29},{"x":26.25,"y":23},{"x":26.375,"y":31},{"x":26.5,"y":25},{"x":26.625,"y":28},{"x":26.75,"y":32},{"x":26.875,"y":27},{"x":27,"y":30},{"x":27.125,"y":24},{"x":27.25,"y":29},{"x":27.375,"y":26},{"x":27.5,"y":33},{"x":27.625,"y":28},{"x":27.75,"y":31},{"x":27.875,"y":22},{"x":28,"y":27},{"x":28.125,"y":29},{"x":28.25,"y":25},{"x":28.375,"y":32},{"x":28.5,"y":28},{"x":28.625,"y":30},{"x":28.75,"y":23},{"x":28.875,"y":27},{"x":29,"y":33},{"x":29.125,"y":29},{"x":29.25,"y":24},{"x":29.375,"y":31},{"x":29.5,"y":26},{"x":29.625,"y":30},{"x":29.75,"y":22},{"x":29.875,"y":32},{"x":30,"y":26},{"x":30.125,"y":35},{"x":30.25,"y":20},{"x":30.375,"y":29},{"x":30.5,"y":23},{"x":30.625,"y":36},{"x":30.75,"y":31},{"x":30.875,"y":21},{"x":31,"y":34},{"x":31.125,"y":32},{"x":31.25,"y":27},{"x":31.375,"y":29},{"x":31.5,"y":33},{"x":31.625,"y":25},{"x":31.75,"y":31},{"x":31.875,"y":28},{"x":32,"y":33},{"x":32.125,"y":27},{"x":32.25,"y":30},{"x":32.375,"y":32},{"x":32.5,"y":24},{"x":32.625,"y":29},{"x":32.75,"y":34},{"x":32.875,"y":26},{"x":33,"y":31},{"x":33.125,"y":28},{"x":33.25,"y":32},{"x":33.375,"y":25},{"x":33.5,"y":29},{"x":33.625,"y":27},{"x":33.75,"y":34},{"x":33.875,"y":30},{"x":34,"y":24},{"x":34.125,"y":31},{"x":34.25,"y":26},{"x":34.375,"y":33},{"x":34.5,"y":28},{"x":34.625,"y":32},{"x":34.75,"y":20},{"x":34.875,"y":33},{"x":35,"y":22},{"x":35.125,"y":35},{"x":35.25,"y":12},{"x":35.375,"y":48},{"x":35.5,"y":6},{"x":35.625,"y":50},{"x":35.75,"y":10},{"x":35.875,"y":44},{"x":36,"y":16},{"x":36.125,"y":38},{"x":36.25,"y":26},{"x":36.375,"y":32},{"x":36.5,"y":24},{"x":36.625,"y":33},{"x":36.75,"y":20},{"x":36.875,"y":35},{"x":37,"y":22},{"x":37.125,"y":27},{"x":37.25,"y":32},{"x":37.375,"y":24},{"x":37.5,"y":30},{"x":37.625,"y":28},{"x":37.75,"y":29},{"x":37.875,"y":25},{"x":38,"y":32},{"x":38.125,"y":27},{"x":38.25,"y":31},{"x":38.375,"y":23},{"x":38.5,"y":28},{"x":38.625,"y":30},{"x":38.75,"y":26},{"x":38.875,"y":29},{"x":39,"y":24},{"x":39.125,"y":33},{"x":39.25,"y":28},{"x":39.375,"y":31},{"x":39.5,"y":25},{"x":39.625,"y":27},{"x":39.75,"y":32},{"x":39.875,"y":29},{"x":40,"y":23},{"x":40.125,"y":30},{"x":40.25,"y":26},{"x":40.375,"y":33},{"x":40.5,"y":27},{"x":40.625,"y":29},{"x":40.75,"y":24},{"x":40.875,"y":31},{"x":41,"y":28},{"x":41.125,"y":25},{"x":41.25,"y":32},{"x":41.375,"y":28},{"x":41.5,"y":30},{"x":41.625,"y":23},{"x":41.75,"y":29},{"x":41.875,"y":26},{"x":42,"y":33},{"x":42.125,"y":27},{"x":42.25,"y":31},{"x":42.375,"y":25},{"x":42.5,"y":30},{"x":42.625,"y":32},{"x":42.75,"y":26},{"x":42.875,"y":30},{"x":43,"y":23},{"x":43.125,"y":35},{"x":43.25,"y":24},{"x":43.375,"y":32},{"x":43.5,"y":21},{"x":43.625,"y":36},{"x":43.75,"y":31},{"x":43.875,"y":22},{"x":44,"y":33},{"x":44.125,"y":29},{"x":44.25,"y":24},{"x":44.375,"y":31},{"x":44.5,"y":28},{"x":44.625,"y":26},{"x":44.75,"y":32},{"x":44.875,"y":29},{"x":45,"y":25},{"x":45.125,"y":30},{"x":45.25,"y":27},{"x":45.375,"y":31},{"x":45.5,"y":26},{"x":45.625,"y":28},{"x":45.75,"y":32},{"x":45.875,"y":24},{"x":46,"y":29},{"x":46.125,"y":27},{"x":46.25,"y":30},{"x":46.375,"y":25},{"x":46.5,"y":33},{"x":46.625,"y":28},{"x":46.75,"y":26},{"x":46.875,"y":31},{"x":47,"y":29},{"x":47.125,"y":24},{"x":47.25,"y":30},{"x":47.375,"y":27},{"x":47.5,"y":32},{"x":47.625,"y":26},{"x":47.75,"y":28},{"x":47.875,"y":31},{"x":48,"y":23},{"x":48.125,"y":29},{"x":48.25,"y":27},{"x":48.375,"y":30},{"x":48.5,"y":25},{"x":48.625,"y":32},{"x":48.75,"y":28},{"x":48.875,"y":26},{"x":49,"y":31},{"x":49.125,"y":27},{"x":49.25,"y":29},{"x":49.375,"y":24},{"x":49.5,"y":33},{"x":49.625,"y":28},{"x":49.75,"y":30},{"x":49.875,"y":25},{"x":50,"y":29},{"x":50.125,"y":26},{"x":50.25,"y":32},{"x":50.375,"y":27},{"x":50.5,"y":31},{"x":50.625,"y":24},{"x":50.75,"y":28},{"x":50.875,"y":30},{"x":51,"y":25},{"x":51.125,"y":33},{"x":51.25,"y":27},{"x":51.375,"y":29},{"x":51.5,"y":23},{"x":51.625,"y":31},{"x":51.75,"y":28},{"x":51.875,"y":26},{"x":52,"y":32},{"x":52.125,"y":29},{"x":52.25,"y":24},{"x":52.375,"y":30},{"x":52.5,"y":27},{"x":52.625,"y":25},{"x":52.75,"y":31},{"x":52.875,"y":27},{"x":53,"y":32},{"x":53.125,"y":21},{"x":53.25,"y":30},{"x":53.375,"y":26},{"x":53.5,"y":34},{"x":53.625,"y":23},{"x":53.75,"y":33},{"x":53.875,"y":29},{"x":54,"y":22},{"x":54.125,"y":35},{"x":54.25,"y":31},{"x":54.375,"y":24},{"x":54.5,"y":32},{"x":54.625,"y":31},{"x":54.75,"y":26},{"x":54.875,"y":28},{"x":55,"y":30},{"x":55.125,"y":24},{"x":55.25,"y":32},{"x":55.375,"y":27},{"x":55.5,"y":29},{"x":55.625,"y":25},{"x":55.75,"y":33},{"x":55.875,"y":28},{"x":56,"y":30},{"x":56.125,"y":24},{"x":56.25,"y":31},{"x":56.375,"y":26},{"x":56.5,"y":29},{"x":56.625,"y":34},{"x":56.75,"y":20},{"x":56.875,"y":38},{"x":57,"y":14},{"x":57.125,"y":40},{"x":57.25,"y":17},{"x":57.375,"y":36},{"x":57.5,"y":19},{"x":57.625,"y":33},{"x":57.75,"y":22},{"x":57.875,"y":31},{"x":58,"y":25},{"x":58.125,"y":29},{"x":58.25,"y":26},{"x":58.375,"y":31},{"x":58.5,"y":27},{"x":58.625,"y":30},{"x":58.75,"y":24},{"x":58.875,"y":32},{"x":59,"y":27},{"x":59.125,"y":29},{"x":59.25,"y":25},{"x":59.375,"y":33},{"x":59.5,"y":28},{"x":59.625,"y":30},{"x":59.75,"y":24},{"x":59.875,"y":31},{"x":60,"y":26}],
"db": [{"x":25,"y":29},{"x":25.125,"y":33},{"x":25.25,"y":27},{"x":25.375,"y":23},{"x":25.5,"y":30},{"x":25.625,"y":28},{"x":25.75,"y":32},{"x":25.875,"y":25},{"x":26,"y":29},{"x":26.125,"y":27},{"x":26.25,"y":22},{"x":26.375,"y":31},{"x":26.5,"y":28},{"x":26.625,"y":33},{"x":26.75,"y":26},{"x":26.875,"y":29},{"x":27,"y":24},{"x":27.125,"y":30},{"x":27.25,"y":27},{"x":27.375,"y":32},{"x":27.5,"y":28},{"x":27.625,"y":25},{"x":27.75,"y":31},{"x":27.875,"y":23},{"x":28,"y":29},{"x":28.125,"y":33},{"x":28.25,"y":26},{"x":28.375,"y":28},{"x":28.5,"y":30},{"x":28.625,"y":24},{"x":28.75,"y":32},{"x":28.875,"y":27},{"x":29,"y":29},{"x":29.125,"y":25},{"x":29.25,"y":26},{"x":29.375,"y":31},{"x":29.5,"y":24},{"x":29.625,"y":36},{"x":29.75,"y":23},{"x":29.875,"y":29},{"x":30,"y":20},{"x":30.125,"y":35},{"x":30.25,"y":26},{"x":30.375,"y":32},{"x":30.5,"y":22},{"x":30.625,"y":30},{"x":30.75,"y":34},{"x":30.875,"y":21},{"x":31,"y":31},{"x":31.125,"y":31},{"x":31.25,"y":24},{"x":31.375,"y":30},{"x":31.5,"y":34},{"x":31.625,"y":27},{"x":31.75,"y":29},{"x":31.875,"y":25},{"x":32,"y":32},{"x":32.125,"y":28},{"x":32.25,"y":31},{"x":32.375,"y":26},{"x":32.5,"y":34},{"x":32.625,"y":29},{"x":32.75,"y":24},{"x":32.875,"y":32},{"x":33,"y":30},{"x":33.125,"y":27},{"x":33.25,"y":33},{"x":33.375,"y":28},{"x":33.5,"y":31},{"x":33.625,"y":25},{"x":33.75,"y":33},{"x":33.875,"y":29},{"x":34,"y":27},{"x":34.125,"y":32},{"x":34.25,"y":28},{"x":34.375,"y":33},{"x":34.5,"y":26},{"x":34.625,"y":31},{"x":34.75,"y":19},{"x":34.875,"y":33},{"x":35,"y":20},{"x":35.125,"y":30},{"x":35.25,"y":14},{"x":35.375,"y":46},{"x":35.5,"y":10},{"x":35.625,"y":42},{"x":35.75,"y":4},{"x":35.875,"y":38},{"x":36,"y":18},{"x":36.125,"y":34},{"x":36.25,"y":21},{"x":36.375,"y":34},{"x":36.5,"y":19},{"x":36.625,"y":32},{"x":36.75,"y":24},{"x":36.875,"y":31},{"x":37,"y":26},{"x":37.125,"y":27},{"x":37.25,"y":33},{"x":37.375,"y":26},{"x":37.5,"y":29},{"x":37.625,"y":23},{"x":37.75,"y":30},{"x":37.875,"y":28},{"x":38,"y":32},{"x":38.125,"y":25},{"x":38.25,"y":28},{"x":38.375,"y":31},{"x":38.5,"y":24},{"x":38.625,"y":29},{"x":38.75,"y":27},{"x":38.875,"y":33},{"x":39,"y":26},{"x":39.125,"y":30},{"x":39.25,"y":23},{"x":39.375,"y":29},{"x":39.5,"y":32},{"x":39.625,"y":27},{"x":39.75,"y":25},{"x":39.875,"y":31},{"x":40,"y":28},{"x":40.125,"y":33},{"x":40.25,"y":24},{"x":40.375,"y":29},{"x":40.5,"y":26},{"x":40.625,"y":30},{"x":40.75,"y":28},{"x":40.875,"y":23},{"x":41,"y":31},{"x":41.125,"y":27},{"x":41.25,"y":32},{"x":41.375,"y":25},{"x":41.5,"y":29},{"x":41.625,"y":28},{"x":41.75,"y":30},{"x":41.875,"y":24},{"x":42,"y":32},{"x":42.125,"y":27},{"x":42.25,"y":30},{"x":42.375,"y":25},{"x":42.5,"y":31},{"x":42.625,"y":33},{"x":42.75,"y":21},{"x":42.875,"y":31},{"x":43,"y":36},{"x":43.125,"y":22},{"x":43.25,"y":32},{"x":43.375,"y":24},{"x":43.5,"y":34},{"x":43.625,"y":22},{"x":43.75,"y":30},{"x":43.875,"y":26},{"x":44,"y":31},{"x":44.125,"y":29},{"x":44.25,"y":32},{"x":44.375,"y":26},{"x":44.5,"y":28},{"x":44.625,"y":31},{"x":44.75,"y":23},{"x":44.875,"y":29},{"x":45,"y":27},{"x":45.125,"y":33},{"x":45.25,"y":25},{"x":45.375,"y":30},{"x":45.5,"y":28},{"x":45.625,"y":24},{"x":45.75,"y":31},{"x":45.875,"y":27},{"x":46,"y":32},{"x":46.125,"y":26},{"x":46.25,"y":29},{"x":46.375,"y":25},{"x":46.5,"y":30},{"x":46.625,"y":28},{"x":46.75,"y":33},{"x":46.875,"y":24},{"x":47,"y":29},{"x":47.125,"y":27},{"x":47.25,"y":31},{"x":47.375,"y":26},{"x":47.5,"y":28},{"x":47.625,"y":32},{"x":47.75,"y":25},{"x":47.875,"y":30},{"x":48,"y":27},{"x":48.125,"y":29},{"x":48.25,"y":23},{"x":48.375,"y":31},{"x":48.5,"y":28},{"x":48.625,"y":26},{"x":48.75,"y":32},{"x":48.875,"y":27},{"x":49,"y":30},{"x":49.125,"y":24},{"x":49.25,"y":29},{"x":49.375,"y":31},{"x":49.5,"y":26},{"x":49.625,"y":28},{"x":49.75,"y":33},{"x":49.875,"y":25},{"x":50,"y":30},{"x":50.125,"y":27},{"x":50.25,"y":29},{"x":50.375,"y":24},{"x":50.5,"y":32},{"x":50.625,"y":28},{"x":50.75,"y":26},{"x":50.875,"y":31},{"x":51,"y":27},{"x":51.125,"y":30},{"x":51.25,"y":25},{"x":51.375,"y":29},{"x":51.5,"y":32},{"x":51.625,"y":26},{"x":51.75,"y":28},{"x":51.875,"y":31},{"x":52,"y":24},{"x":52.125,"y":29},{"x":52.25,"y":27},{"x":52.375,"y":30},{"x":52.5,"y":24},{"x":52.625,"y":31},{"x":52.75,"y":23},{"x":52.875,"y":30},{"x":53,"y":35},{"x":53.125,"y":22},{"x":53.25,"y":29},{"x":53.375,"y":33},{"x":53.5,"y":22},{"x":53.625,"y":32},{"x":53.75,"y":26},{"x":53.875,"y":30},{"x":54,"y":21},{"x":54.125,"y":31},{"x":54.25,"y":27},{"x":54.375,"y":30},{"x":54.5,"y":25},{"x":54.625,"y":24},{"x":54.75,"y":30},{"x":54.875,"y":28},{"x":55,"y":33},{"x":55.125,"y":25},{"x":55.25,"y":29},{"x":55.375,"y":27},{"x":55.5,"y":32},{"x":55.625,"y":24},{"x":55.75,"y":30},{"x":55.875,"y":28},{"x":56,"y":26},{"x":56.125,"y":31},{"x":56.25,"y":29},{"x":56.375,"y":26},{"x":56.5,"y":31},{"x":56.625,"y":35},{"x":56.75,"y":19},{"x":56.875,"y":33},{"x":57,"y":40},{"x":57.125,"y":16},{"x":57.25,"y":37},{"x":57.375,"y":15},{"x":57.5,"y":36},{"x":57.625,"y":20},{"x":57.75,"y":33},{"x":57.875,"y":23},{"x":58,"y":31},{"x":58.125,"y":30},{"x":58.25,"y":28},{"x":58.375,"y":33},{"x":58.5,"y":25},{"x":58.625,"y":29},{"x":58.75,"y":27},{"x":58.875,"y":32},{"x":59,"y":24},{"x":59.125,"y":30},{"x":59.25,"y":27},{"x":59.375,"y":31},{"x":59.5,"y":26},{"x":59.625,"y":29},{"x":59.75,"y":26},{"x":59.875,"y":31},{"x":60,"y":24}],
"da": [{"x":25,"y":28},{"x":25.125,"y":26},{"x":25.25,"y":30},{"x":25.375,"y":23},{"x":25.5,"y":27},{"x":25.625,"y":25},{"x":25.75,"y":20},{"x":25.875,"y":29},{"x":26,"y":26},{"x":26.125,"y":31},{"x":26.25,"y":24},{"x":26.375,"y":27},{"x":26.5,"y":22},{"x":26.625,"y":28},{"x":26.75,"y":25},{"x":26.875,"y":30},{"x":27,"y":26},{"x":27.125,"y":23},{"x":27.25,"y":29},{"x":27.375,"y":21},{"x":27.5,"y":27},{"x":27.625,"y":31},{"x":27.75,"y":24},{"x":27.875,"y":26},{"x":28,"y":28},{"x":28.125,"y":22},{"x":28.25,"y":30},{"x":28.375,"y":25},{"x":28.5,"y":27},{"x":28.625,"y":23},{"x":28.75,"y":24},{"x":28.875,"y":29},{"x":29,"y":22},{"x":29.125,"y":27},{"x":29.25,"y":31},{"x":29.375,"y":25},{"x":29.5,"y":21},{"x":29.625,"y":33},{"x":29.75,"y":20},{"x":29.875,"y":31},{"x":30,"y":18},{"x":30.125,"y":30},{"x":30.25,"y":22},{"x":30.375,"y":28},{"x":30.5,"y":24},{"x":30.625,"y":29},{"x":30.75,"y":34},{"x":30.875,"y":19},{"x":31,"y":27},{"x":31.125,"y":25},{"x":31.25,"y":27},{"x":31.375,"y":23},{"x":31.5,"y":30},{"x":31.625,"y":26},{"x":31.75,"y":29},{"x":31.875,"y":24},{"x":32,"y":32},{"x":32.125,"y":27},{"x":32.25,"y":22},{"x":32.375,"y":30},{"x":32.5,"y":28},{"x":32.625,"y":25},{"x":32.75,"y":31},{"x":32.875,"y":26},{"x":33,"y":29},{"x":33.125,"y":23},{"x":33.25,"y":31},{"x":33.375,"y":27},{"x":33.5,"y":25},{"x":33.625,"y":30},{"x":33.75,"y":26},{"x":33.875,"y":31},{"x":34,"y":24},{"x":34.125,"y":29},{"x":34.25,"y":22},{"x":34.375,"y":28},{"x":34.5,"y":32},{"x":34.625,"y":31},{"x":34.75,"y":19},{"x":34.875,"y":34},{"x":35,"y":20},{"x":35.125,"y":29},{"x":35.25,"y":6},{"x":35.375,"y":45},{"x":35.5,"y":12},{"x":35.625,"y":54},{"x":35.75,"y":3},{"x":35.875,"y":42},{"x":36,"y":15},{"x":36.125,"y":33},{"x":36.25,"y":20},{"x":36.375,"y":34},{"x":36.5,"y":17},{"x":36.625,"y":31},{"x":36.75,"y":23},{"x":36.875,"y":29},{"x":37,"y":25},{"x":37.125,"y":21},{"x":37.25,"y":28},{"x":37.375,"y":26},{"x":37.5,"y":30},{"x":37.625,"y":23},{"x":37.75,"y":26},{"x":37.875,"y":29},{"x":38,"y":22},{"x":38.125,"y":27},{"x":38.25,"y":25},{"x":38.375,"y":31},{"x":38.5,"y":24},{"x":38.625,"y":28},{"x":38.75,"y":21},{"x":38.875,"y":27},{"x":39,"y":30},{"x":39.125,"y":25},{"x":39.25,"y":23},{"x":39.375,"y":29},{"x":39.5,"y":26},{"x":39.625,"y":31},{"x":39.75,"y":22},{"x":39.875,"y":27},{"x":40,"y":24},{"x":40.125,"y":28},{"x":40.25,"y":26},{"x":40.375,"y":21},{"x":40.5,"y":29},{"x":40.625,"y":25},{"x":40.75,"y":30},{"x":40.875,"y":23},{"x":41,"y":27},{"x":41.125,"y":26},{"x":41.25,"y":28},{"x":41.375,"y":22},{"x":41.5,"y":30},{"x":41.625,"y":25},{"x":41.75,"y":28},{"x":41.875,"y":23},{"x":42,"y":29},{"x":42.125,"y":25},{"x":42.25,"y":31},{"x":42.375,"y":24},{"x":42.5,"y":27},{"x":42.625,"y":30},{"x":42.75,"y":19},{"x":42.875,"y":32},{"x":43,"y":21},{"x":43.125,"y":33},{"x":43.25,"y":18},{"x":43.375,"y":29},{"x":43.5,"y":23},{"x":43.625,"y":31},{"x":43.75,"y":20},{"x":43.875,"y":28},{"x":44,"y":25},{"x":44.125,"y":29},{"x":44.25,"y":21},{"x":44.375,"y":27},{"x":44.5,"y":25},{"x":44.625,"y":31},{"x":44.75,"y":23},{"x":44.875,"y":28},{"x":45,"y":26},{"x":45.125,"y":22},{"x":45.25,"y":29},{"x":45.375,"y":25},{"x":45.5,"y":30},{"x":45.625,"y":24},{"x":45.75,"y":27},{"x":45.875,"y":23},{"x":46,"y":28},{"x":46.125,"y":26},{"x":46.25,"y":31},{"x":46.375,"y":22},{"x":46.5,"y":27},{"x":46.625,"y":25},{"x":46.75,"y":29},{"x":46.875,"y":24},{"x":47,"y":26},{"x":47.125,"y":30},{"x":47.25,"y":23},{"x":47.375,"y":28},{"x":47.5,"y":25},{"x":47.625,"y":27},{"x":47.75,"y":21},{"x":47.875,"y":29},{"x":48,"y":26},{"x":48.125,"y":24},{"x":48.25,"y":30},{"x":48.375,"y":25},{"x":48.5,"y":28},{"x":48.625,"y":22},{"x":48.75,"y":27},{"x":48.875,"y":29},{"x":49,"y":24},{"x":49.125,"y":26},{"x":49.25,"y":31},{"x":49.375,"y":23},{"x":49.5,"y":28},{"x":49.625,"y":25},{"x":49.75,"y":27},{"x":49.875,"y":22},{"x":50,"y":30},{"x":50.125,"y":26},{"x":50.25,"y":24},{"x":50.375,"y":29},{"x":50.5,"y":25},{"x":50.625,"y":28},{"x":50.75,"y":23},{"x":50.875,"y":27},{"x":51,"y":30},{"x":51.125,"y":24},{"x":51.25,"y":26},{"x":51.375,"y":29},{"x":51.5,"y":22},{"x":51.625,"y":27},{"x":51.75,"y":25},{"x":51.875,"y":28},{"x":52,"y":22},{"x":52.125,"y":27},{"x":52.25,"y":30},{"x":52.375,"y":24},{"x":52.5,"y":26},{"x":52.625,"y":29},{"x":52.75,"y":21},{"x":52.875,"y":31},{"x":53,"y":24},{"x":53.125,"y":32},{"x":53.25,"y":20},{"x":53.375,"y":28},{"x":53.5,"y":30},{"x":53.625,"y":22},{"x":53.75,"y":31},{"x":53.875,"y":23},{"x":54,"y":29},{"x":54.125,"y":20},{"x":54.25,"y":27},{"x":54.375,"y":25},{"x":54.5,"y":28},{"x":54.625,"y":23},{"x":54.75,"y":27},{"x":54.875,"y":25},{"x":55,"y":30},{"x":55.125,"y":22},{"x":55.25,"y":28},{"x":55.375,"y":26},{"x":55.5,"y":24},{"x":55.625,"y":29},{"x":55.75,"y":27},{"x":55.875,"y":24},{"x":56,"y":29},{"x":56.125,"y":22},{"x":56.25,"y":28},{"x":56.375,"y":26},{"x":56.5,"y":31},{"x":56.625,"y":32},{"x":56.75,"y":20},{"x":56.875,"y":34},{"x":57,"y":17},{"x":57.125,"y":30},{"x":57.25,"y":3},{"x":57.375,"y":36},{"x":57.5,"y":19},{"x":57.625,"y":33},{"x":57.75,"y":22},{"x":57.875,"y":30},{"x":58,"y":24},{"x":58.125,"y":27},{"x":58.25,"y":25},{"x":58.375,"y":30},{"x":58.5,"y":22},{"x":58.625,"y":28},{"x":58.75,"y":25},{"x":58.875,"y":29},{"x":59,"y":24},{"x":59.125,"y":27},{"x":59.25,"y":24},{"x":59.375,"y":29},{"x":59.5,"y":22},{"x":59.625,"y":28},{"x":59.75,"y":26},{"x":59.875,"y":31},{"x":60,"y":23}]
},
"vconcat": [
{
 "width": 807, "height": 333,
 "encoding": {
  "x": {"field": "x", "type": "quantitative", "scale": {"domain": [25, 60], "nice": false, "zero": false}, "axis": {"values": [25,27.5,30,32.5,35,37.5,40,42.5,45,47.5,50,52.5,55,57.5,60], "tickSize": 8, "labels": false, "title": null, "encode": {"ticks": {"update": {"y2": {"signal": "datum.value % 5 === 0 ? 8 : 4"}}}}}},
  "y": {"field": "y", "type": "quantitative", "scale": {"domain": [0, 333], "nice": false, "zero": false}, "axis": {"ticks": false, "labels": false, "title": null}}
 },
 "layer": [
  {"data": {"name": "eg"}, "transform": [{"filter": "!datum.o"}], "mark": {"type": "line", "color": "#c0c0c0", "strokeWidth": 13, "strokeJoin": "round", "strokeCap": "round", "clip": true}},
  {"data": {"name": "eg"}, "mark": {"type": "point", "filled": true, "color": "#c0c0c0", "size": 70, "opacity": 1, "clip": true}},
  {"data": {"name": "dg"}, "mark": {"type": "line", "color": "#383838", "strokeWidth": 1.2}},
  {"data": {"name": "fg"}, "mark": {"type": "line", "color": "#000", "strokeWidth": 6, "interpolate": "monotone"}},
  {"data": {"values": [{"x": 26.1, "y": 284, "t": "г)"}]}, "mark": {"type": "text", "fontSize": 42, "align": "left", "baseline": "alphabetic"}, "encoding": {"text": {"field": "t"}}}
 ]
},
{
 "width": 807, "height": 344,
 "encoding": {
  "x": {"field": "x", "type": "quantitative", "scale": {"domain": [25, 60], "nice": false, "zero": false}, "axis": {"values": [25,27.5,30,32.5,35,37.5,40,42.5,45,47.5,50,52.5,55,57.5,60], "tickSize": 8, "labels": false, "title": null, "encode": {"ticks": {"update": {"y2": {"signal": "datum.value % 5 === 0 ? 8 : 4"}}}}}},
  "y": {"field": "y", "type": "quantitative", "scale": {"domain": [0, 344], "nice": false, "zero": false}, "axis": {"ticks": false, "labels": false, "title": "Интенсивность, отн. ед.", "titlePadding": 13}}
 },
 "layer": [
  {"data": {"name": "ev"}, "transform": [{"filter": "!datum.o"}], "mark": {"type": "line", "color": "#c0c0c0", "strokeWidth": 13, "strokeJoin": "round", "strokeCap": "round", "clip": true}},
  {"data": {"name": "ev"}, "mark": {"type": "point", "filled": true, "color": "#c0c0c0", "size": 70, "opacity": 1, "clip": true}},
  {"data": {"name": "dv"}, "mark": {"type": "line", "color": "#383838", "strokeWidth": 1.2}},
  {"data": {"name": "fv"}, "mark": {"type": "line", "color": "#000", "strokeWidth": 6, "interpolate": "monotone"}},
  {"data": {"values": [{"x": 26.1, "y": 302, "t": "в)"}]}, "mark": {"type": "text", "fontSize": 42, "align": "left", "baseline": "alphabetic"}, "encoding": {"text": {"field": "t"}}}
 ]
},
{
 "width": 807, "height": 343,
 "encoding": {
  "x": {"field": "x", "type": "quantitative", "scale": {"domain": [25, 60], "nice": false, "zero": false}, "axis": {"values": [25,27.5,30,32.5,35,37.5,40,42.5,45,47.5,50,52.5,55,57.5,60], "tickSize": 8, "labels": false, "title": null, "encode": {"ticks": {"update": {"y2": {"signal": "datum.value % 5 === 0 ? 8 : 4"}}}}}},
  "y": {"field": "y", "type": "quantitative", "scale": {"domain": [0, 343], "nice": false, "zero": false}, "axis": {"ticks": false, "labels": false, "title": null}}
 },
 "layer": [
  {"data": {"name": "eb"}, "transform": [{"filter": "!datum.o"}], "mark": {"type": "line", "color": "#c0c0c0", "strokeWidth": 13, "strokeJoin": "round", "strokeCap": "round", "clip": true}},
  {"data": {"name": "eb"}, "mark": {"type": "point", "filled": true, "color": "#c0c0c0", "size": 70, "opacity": 1, "clip": true}},
  {"data": {"name": "db"}, "mark": {"type": "line", "color": "#383838", "strokeWidth": 1.2}},
  {"data": {"name": "fb"}, "mark": {"type": "line", "color": "#000", "strokeWidth": 6, "interpolate": "monotone"}},
  {"data": {"values": [{"x": 26.1, "y": 295, "t": "б)"}]}, "mark": {"type": "text", "fontSize": 42, "align": "left", "baseline": "alphabetic"}, "encoding": {"text": {"field": "t"}}}
 ]
},
{
 "width": 807, "height": 343,
 "encoding": {
  "x": {"field": "x", "type": "quantitative", "scale": {"domain": [25, 60], "nice": false, "zero": false}, "axis": {"values": [25,27.5,30,32.5,35,37.5,40,42.5,45,47.5,50,52.5,55,57.5,60], "tickSize": 8, "labelPadding": 7, "labelOverlap": false, "labelFlush": false, "labelExpr": "datum.value % 5 === 0 ? datum.label : ''", "title": "2θ, град.", "titlePadding": 5, "encode": {"ticks": {"update": {"y2": {"signal": "datum.value % 5 === 0 ? 8 : 4"}}}}}},
  "y": {"field": "y", "type": "quantitative", "scale": {"domain": [0, 343], "nice": false, "zero": false}, "axis": {"ticks": false, "labels": false, "title": null}}
 },
 "layer": [
  {"data": {"name": "ea"}, "transform": [{"filter": "!datum.o"}], "mark": {"type": "line", "color": "#c0c0c0", "strokeWidth": 13, "strokeJoin": "round", "strokeCap": "round", "clip": true}},
  {"data": {"name": "ea"}, "mark": {"type": "point", "filled": true, "color": "#c0c0c0", "size": 70, "opacity": 1, "clip": true}},
  {"data": {"name": "da"}, "mark": {"type": "line", "color": "#383838", "strokeWidth": 1.2}},
  {"data": {"name": "fa"}, "mark": {"type": "line", "color": "#000", "strokeWidth": 6, "interpolate": "monotone"}},
  {"data": {"values": []}, "mark": {"type": "point", "filled": false, "size": 1296, "opacity": 1},
   "encoding": {
    "color": {"datum": "Эксперимент", "type": "nominal", "scale": {"domain": ["Эксперимент", "Уточнение"], "range": ["#c0c0c0", "#000000"]},
      "legend": {"title": null, "orient": "none", "legendX": 515, "legendY": 5, "symbolSize": 1296, "symbolFillColor": "#c0c0c0", "symbolOpacity": 1, "labelFont": "Liberation Serif", "labelFontSize": 31, "labelColor": "#000", "labelOffset": 39, "rowPadding": 4, "labelLimit": 0}},
    "shape": {"datum": "Эксперимент", "type": "nominal", "scale": {"domain": ["Эксперимент", "Уточнение"], "range": ["M-1,0H3M0.88,0A0.12,0.12,0,1,1,1.12,0A0.12,0.12,0,1,1,0.88,0Z", "M-1,0H3"]}},
    "strokeWidth": {"datum": "Эксперимент", "type": "ordinal", "scale": {"domain": ["Эксперимент", "Уточнение"], "range": [2.5, 6]}}
   }},
  {"data": {"values": [{"x": 26.1, "y": 297, "t": "а)"}]}, "mark": {"type": "text", "fontSize": 42, "align": "left", "baseline": "alphabetic"}, "encoding": {"text": {"field": "t"}}},
  {"data": {"values": [{"x": 30.05, "y": 233, "t": "(220)"}, {"x": 33.85, "y": 289, "t": "(311)"}, {"x": 37.5, "y": 166, "t": "(222)"}, {"x": 43.26, "y": 187, "t": "(400)"}, {"x": 53.8, "y": 159, "t": "(422)"}, {"x": 57.37, "y": 196, "t": "(511)"}]}, "mark": {"type": "text", "fontSize": 31, "angle": 270, "align": "center", "baseline": "middle"}, "encoding": {"text": {"field": "t"}}}
 ]
}
]
}
